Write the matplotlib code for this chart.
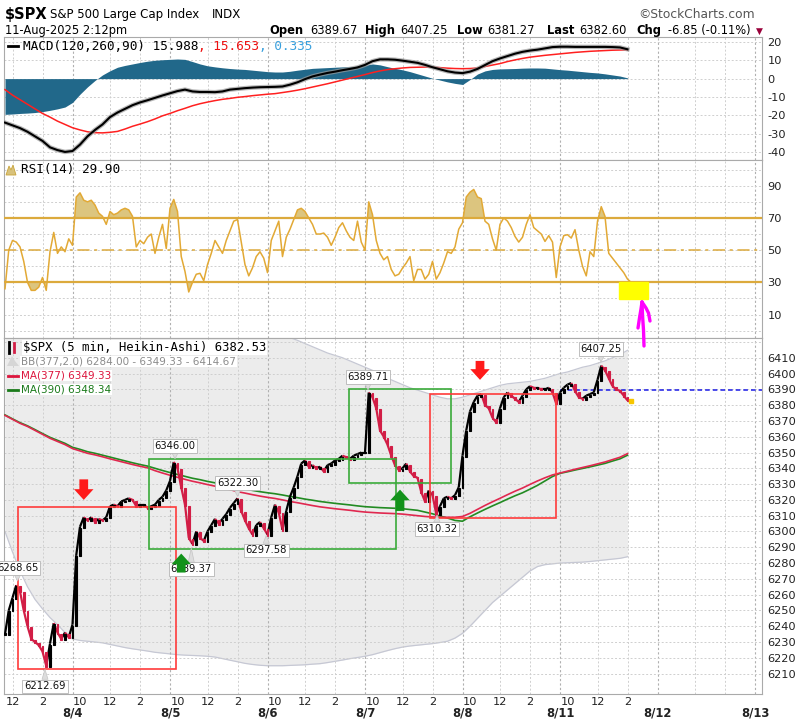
# $SPX 5 min Heikin-Ashi with MACD / RSI panels (StockCharts style)

import numpy as np
import matplotlib.pyplot as plt
import matplotlib.transforms as mtransforms
from matplotlib.patches import Rectangle, Polygon
from matplotlib.lines import Line2D
from matplotlib.collections import LineCollection

plt.rcParams['axes.unicode_minus'] = False

W, H = 809, 721

# trading sessions on the x axis, each one 9:30 - 16:00
days = ['8/1', '8/4', '8/5', '8/6', '8/7', '8/8', '8/11', '8/12', '8/13']


def when(day, hhmm):
    h, m = map(int, hhmm.split(':'))
    return days.index(day) + (h * 60 + m - 570) / 390.0


# Heikin-Ashi closes, one every 15 min starting 8/1 11:30
ha_start = ('8/1', '11:30')
ha_close = [
    6235, 6250, 6258, 6266, 6262, 6250, 6240, 6232, 6230, 6228, 6224, 6215, 6229, 6242, 6236, 6232, 6236, 6233,
    6241, 6285, 6303, 6309, 6307, 6309, 6306, 6308, 6307, 6309, 6316, 6317, 6316, 6319, 6320, 6321, 6320, 6316,
    6317, 6317, 6315, 6316, 6317, 6320, 6322, 6326,
    6332, 6344, 6340, 6328, 6317, 6296, 6292, 6300, 6296, 6294, 6300, 6304, 6308, 6305, 6308, 6311, 6315, 6318,
    6321, 6313, 6307, 6302, 6298, 6304, 6306, 6302,
    6298, 6309, 6317, 6312, 6301, 6313, 6322, 6328, 6335, 6343, 6345, 6341, 6342, 6340, 6341, 6338, 6342, 6343,
    6345, 6346, 6348, 6347, 6346, 6348, 6349, 6350,
    6350, 6388, 6385, 6378, 6364, 6360, 6355, 6348, 6342, 6339, 6340, 6343, 6338, 6335, 6334, 6325, 6319, 6326,
    6323, 6311, 6316, 6321, 6322, 6321, 6323, 6328,
    6348, 6364, 6376, 6382, 6386, 6387, 6380, 6378, 6372, 6369, 6378, 6385, 6388, 6386, 6384, 6382, 6386, 6390,
    6392, 6391, 6391, 6390, 6390, 6391, 6388, 6381,
    6388, 6391, 6393, 6394, 6389, 6385, 6384, 6386, 6387, 6388, 6396, 6405, 6402, 6397, 6392, 6390, 6389, 6386,
    6383, 6382.5,
]
rsi14 = [
    26, 50, 56, 55, 52, 43, 30, 25, 25, 27, 33, 25, 49, 61, 48, 52, 49, 57,
    53, 83, 85.6, 81, 80, 81, 78, 73, 71, 66, 74, 72, 73, 75, 76, 75, 71, 52, 56, 54, 58, 60, 48, 58, 66, 51,
    76, 81.5, 74, 46, 36.7, 24, 30, 35, 35.6, 31, 41, 48, 56, 52, 48, 56, 62, 68, 69, 55, 41, 34, 39, 46, 49, 45,
    36, 56, 62, 68, 46, 58, 63, 69, 75, 76, 74, 70, 66, 60, 60, 60.6, 58, 53, 58, 64, 67, 62, 58, 56, 68, 55,
    50, 80, 72, 56, 48, 44, 46, 38, 34, 35, 38.8, 42, 46, 31, 38, 38, 32, 35, 43, 32, 36, 42, 49, 48, 52, 63,
    67, 83, 86, 87.7, 83, 82, 68, 66, 57, 50, 66, 70, 68, 64, 58.5, 55, 58, 66, 72, 64, 62, 60, 55.4, 59, 55, 33,
    52, 59, 59.6, 57.5, 62.7, 50, 40, 34, 49, 46, 68, 77, 71, 48, 45, 42, 39, 36, 32, 29.9,
]

# smooth studies, one value every 30 min from 8/1 11:30
macd_line = [
    -24, -25.5, -27, -29, -31.5, -34, -37.5, -39, -40, -39.5, -36, -31.5, -28, -25, -21, -18.5, -16.5, -14.5,
    -13, -11.8, -10.5, -9.2, -8, -6.8, -6, -7, -7.3, -7.3, -7.4, -7, -6, -5.6, -5.2, -4.9, -4.7, -4.6, -4.5,
    -4.3, -3.3, -2, -0.3, 1.2, 2.2, 3.1, 3.8, 4.6, 5.3, 6.1, 7.5, 9.5, 10.5, 10.5, 10.3, 9.8, 9.2, 8.6, 7.5,
    6.2, 5.1, 4, 3.3, 3, 3.8, 5.3, 7.4, 9.5, 11, 12.3, 13.6, 14.6, 15.3, 15.8, 16.5, 17.2, 17.4, 17.4, 17.3,
    17.3, 17.3, 17.3, 17.3, 17.2, 17, 16,
]
macd_signal = [
    -6, -9, -11.5, -14, -16.5, -19, -21, -23.2, -25, -26.8, -28, -29, -29.5, -29.6, -29.3, -28.8, -27.5, -26,
    -24.8, -23.5, -22, -20.3, -19, -17.5, -16.2, -14.8, -13.7, -12.8, -12, -11.3, -10.8, -10.2, -9.8, -9.3,
    -8.9, -8.5, -8.2, -7.6, -7, -6.3, -5.5, -4.6, -3.7, -2.8, -1.8, -0.8, 0.2, 1.2, 2.2, 3.3, 4.2, 4.9, 5.4,
    5.8, 6.1, 6.2, 6.3, 6.2, 6, 5.7, 5.5, 5.4, 5.5, 5.8, 6.6, 7.4, 8.2, 9.3, 10.2, 11, 11.7, 12.2, 12.7, 13.1,
    13.5, 13.9, 14.3, 14.6, 14.9, 15.1, 15.3, 15.5, 15.6, 15.65,
]
macd_hist = [
    -19.5, -19.3, -19, -18.8, -18.5, -18, -17.3, -16.5, -15.5, -13, -8.5, -4.5, -1, 2, 4.3, 6.2, 7.2, 8, 8.8,
    9.5, 10, 10.3, 10.5, 10.7, 10.5, 9.3, 8, 7, 6.4, 5.9, 5.5, 5.2, 5, 4.6, 4.2, 3.8, 3.6, 3.6, 4, 4.6, 5.1,
    5.6, 5.8, 6, 6.2, 6.4, 6.5, 6.8, 7.3, 8, 7.5, 6.5, 5.6, 4.8, 3.8, 2.6, 1.4, 0.2, -0.8, -1.8, -2.6, -3.2,
    -0.5, 2.5, 4.2, 5, 5.3, 5.4, 5.5, 5.7, 5.8, 5.8, 5.7, 5.3, 4.9, 4.6, 4.2, 3.8, 3.4, 3.1, 2.6, 2, 1.4, 0.4,
]
ma377 = [
    6373.5, 6371, 6368.5, 6366.5, 6364, 6361.5, 6359, 6357, 6355, 6352.5, 6351, 6349.5, 6348.5, 6347.3, 6346,
    6344.8, 6343.6, 6342.4, 6341.3, 6340.3, 6338.5, 6337, 6335.6, 6334.3, 6333, 6331.8, 6330.8, 6329.7, 6328.7,
    6327.6, 6326.5, 6325.2, 6324.3, 6323.3, 6322.4, 6321.6, 6320.9, 6320, 6319, 6318.2, 6317.3, 6316.4, 6315.6,
    6315, 6314.4, 6313.9, 6313.4, 6312.8, 6312.3, 6312, 6311.7, 6311.5, 6311.3, 6311, 6310.5, 6310, 6309.5,
    6309.2, 6309, 6309, 6309, 6309.5, 6311.5, 6314, 6316.5, 6318.8, 6321, 6323.3, 6325.5, 6327.5, 6329.8, 6332,
    6334, 6335.8, 6337, 6338.2, 6339.4, 6340.5, 6341.6, 6342.8, 6344, 6345.5, 6347, 6349.3,
]
ma390 = [
    6373.8, 6371.3, 6368.9, 6366.9, 6364.5, 6362, 6359.6, 6357.7, 6355.8, 6353.3, 6352, 6350.5, 6349.5, 6348.3,
    6347.1, 6345.9, 6344.7, 6343.5, 6342.4, 6341.4, 6340, 6338.6, 6337.3, 6336.1, 6334.9, 6333.7, 6332.8, 6331.7,
    6330.8, 6329.7, 6328.6, 6327.7, 6326.9, 6326, 6325.2, 6324.5, 6323.9, 6323.1, 6322.2, 6321.4, 6320.5, 6319.8,
    6319, 6318.4, 6317.8, 6317.3, 6316.8, 6316.2, 6315.7, 6315.4, 6315.1, 6314.9, 6314.7, 6314.4, 6313.9, 6313.4,
    6312.3, 6311.2, 6309.8, 6308.5, 6307, 6306.5, 6309.3, 6311.7, 6314, 6316.2, 6318.3, 6320.5, 6322.6, 6324.5,
    6326.8, 6329.2, 6332, 6334.8, 6336.8, 6337.8, 6338.9, 6339.9, 6340.9, 6342, 6343.1, 6344.6, 6346, 6348.3,
]
bb_lower = [
    6300, 6287, 6275, 6265, 6257, 6251, 6245.5, 6241, 6236, 6232, 6231, 6230.5, 6230, 6229.5, 6228.5, 6227.5,
    6226.5, 6225.7, 6225, 6224.3, 6223.5, 6223, 6222.5, 6222, 6221.7, 6221.5, 6221.3, 6221, 6220.5, 6219.5,
    6218.5, 6217.5, 6216.5, 6215.8, 6215.3, 6215, 6215, 6215, 6215.2, 6215.4, 6215.6, 6216, 6216.3, 6217,
    6217.8, 6218.6, 6219.5, 6220.2, 6221, 6222, 6223.3, 6224.6, 6225.8, 6226.8, 6227.5, 6228, 6228.5, 6229,
    6229.7, 6230.5, 6232.5, 6235.5, 6240, 6245, 6250, 6255, 6259, 6263, 6267, 6271, 6275, 6277.8, 6279, 6279.5,
    6280, 6280.2, 6280.4, 6280.6, 6281, 6281.5, 6282, 6282.5, 6283, 6284,
]
bb_upper = [
    6447, 6455, 6462, 6468, 6471, 6472, 6472.5, 6473, 6474, 6473, 6471, 6468.5, 6467, 6465, 6463.5, 6462,
    6460.7, 6459, 6457.6, 6456.3, 6453.5, 6451, 6448.7, 6446.6, 6444.3, 6442, 6440.3, 6438.4, 6437, 6435.7,
    6434.5, 6433, 6432, 6430.8, 6429.5, 6428, 6426.8, 6425, 6422.8, 6421, 6419, 6417, 6415, 6413, 6411.5,
    6410, 6408, 6406, 6404, 6402, 6399.5, 6397, 6395, 6393, 6391, 6389.5, 6388, 6386.5, 6385, 6384, 6384,
    6385, 6386.5, 6388, 6389.5, 6391, 6392.5, 6393.5, 6394, 6394.5, 6395, 6396, 6397, 6398.5, 6400, 6401,
    6402.5, 6404, 6405, 6406.5, 6408, 6410, 6412, 6414.7,
]
prev_close = 6389.45

# chart annotations drawn by the user
peak_labels = [  # text, day, time, label offset (px, + is above)
    ('6268.65', '8/1', '12:20', 13), ('6212.69', '8/1', '14:10', -17),
    ('6346.00', '8/5', '9:50', 13), ('6289.37', '8/5', '10:55', -21),
    ('6322.30', '8/5', '14:00', 13), ('6297.58', '8/5', '15:55', -15),
    ('6389.71', '8/7', '9:42', 13), ('6310.32', '8/7', '14:18', -14),
    ('6407.25', '8/11', '12:14', 13),
]
boxes = [  # from, to, low, high, colour
    (('8/1', '12:20'), ('8/5', '9:55'), 6213, 6315.5, '#ff3b3b'),
    (('8/4', '14:35'), ('8/7', '11:35'), 6289, 6346, '#3aaa3a'),
    (('8/6', '14:55'), ('8/7', '15:15'), 6331, 6390.5, '#3aaa3a'),
    (('8/7', '13:50'), ('8/8', '15:45'), 6308.5, 6387, '#ff3b3b'),
]
arrows = [  # day, time, from price, to price, colour
    ('8/4', '10:15', 6333, 6320, '#ff1a1a'),
    ('8/8', '10:40', 6408, 6396, '#ff1a1a'),
    ('8/5', '10:15', 6274, 6286, '#12921a'),
    ('8/7', '11:50', 6313, 6326.5, '#12921a'),
]
rsi_mark = (('8/11', '13:26'), ('8/11', '15:22'), 19.5, 30.2)

# ------------------------------------------------------------------
t0 = when(*ha_start)
t15 = t0 + np.arange(len(ha_close)) * 15 / 390.0
t30 = t0 + np.arange(len(macd_line)) * 30 / 390.0
x0, x1 = 29 / 97.5, 787 / 97.5

fig = plt.figure(figsize=(W / 100, H / 100), dpi=100)
pix = mtransforms.Affine2D().scale(1.0 / W, -1.0 / H).translate(0, 1) + fig.transFigure


def panel(top, bottom):
    ax = fig.add_axes([4 / W, 1 - bottom / H, 758 / W, (bottom - top) / H])
    ax.set_xlim(x0, x1)
    for s in ax.spines.values():
        s.set_color('#aaaaaa')
    ax.yaxis.tick_right()
    ax.tick_params(axis='y', length=0, pad=4, labelsize=8.2, labelcolor='#222222')
    ax.tick_params(axis='x', length=0, labelbottom=False)
    for i, d in enumerate(days):
        ax.axvline(i, color='#b0b0b0', lw=0.8, ls=(0, (2, 2)), zorder=1)
        for hh in ('12:00', '14:00'):
            ax.axvline(when(d, hh), color='#cfcfcf', lw=0.7, ls=(0, (2, 2)), zorder=1)
    return ax


def hgrid(ax, vals):
    for v in vals:
        ax.axhline(v, color='#cfcfcf', lw=0.7, ls=(0, (2, 2)), zorder=1)


ax_m = panel(37, 160)
ax_r = panel(160, 338)
ax_p = panel(338, 694)

# MACD
ax_m.set_ylim(-44.4, 22.7)
ax_m.set_yticks([20, 10, 0, -10, -20, -30, -40])
hgrid(ax_m, range(-40, 21, 10))
ax_m.fill_between(t30, 0, macd_hist, color='#21688a', lw=0, zorder=2)
ax_m.plot(t30, macd_signal, color='#ff2020', lw=1.1, zorder=3)
ax_m.plot(t30, macd_line, color='#9a9a9a', lw=3.2, zorder=3, alpha=0.7)
ax_m.plot(t30, macd_line, color='black', lw=1.5, zorder=4)

# RSI
rsi = np.array(rsi14)
ax_r.set_ylim(-4.6, 106)
ax_r.set_yticks([90, 70, 50, 30, 10])
hgrid(ax_r, range(0, 101, 10))
ax_r.fill_between(t15, 70, rsi, where=rsi > 70, interpolate=True, color='#dcc57f', lw=0, zorder=2)
ax_r.fill_between(t15, 30, rsi, where=rsi < 30, interpolate=True, color='#dcc57f', lw=0, zorder=2)
for lev in (70, 30):
    ax_r.axhline(lev, color='#dcaa3c', lw=1.6, zorder=3)
ax_r.axhline(50, color='#dcaa3c', lw=1.1, ls=(0, (8, 3, 2, 3)), zorder=3)
ax_r.plot(t15, rsi, color='#e2a935', lw=1.1, zorder=4)
(a, b, lo, hi) = rsi_mark
ax_r.add_patch(Rectangle((when(*a), lo), when(*b) - when(*a), hi - lo, color='#ffff00', zorder=5))

# price
close = np.array(ha_close, dtype=float)
ax_p.set_ylim(6197.1, 6422.5)
ax_p.set_yticks(range(6210, 6411, 10))
hgrid(ax_p, range(6210, 6421, 10))
ax_p.fill_between(t30, bb_lower, bb_upper, color='#ececec', lw=0, zorder=0.5)
ax_p.plot(t30, bb_lower, color='#c6c8d4', lw=0.9, zorder=0.6)
ax_p.plot(t30, bb_upper, color='#c6c8d4', lw=0.9, zorder=0.6)
ax_p.plot(t30, ma390, color='#228b22', lw=1.2, zorder=3)
ax_p.plot(t30, ma377, color='#e0284f', lw=1.2, zorder=3)
ax_p.hlines(prev_close, when('8/11', '9:30'), x1, colors='#1a1ae6', lw=1.1, linestyles=(0, (3, 2)), zorder=3)

# Heikin-Ashi bars: each runs from the previous close to its own close
opens = np.r_[close[0], close[:-1]]
cols = np.where(close >= opens, 'black', '#d21e46')
segs = [[(t15[i - 1], close[i - 1]), (t15[i], close[i])] for i in range(1, len(close))]
ax_p.add_collection(LineCollection(segs, colors=cols[1:], lw=1.6, zorder=4))
ax_p.bar(t15, np.maximum(np.abs(close - opens), 1.2), bottom=np.minimum(opens, close) - 0.6,
         width=0.45 * 15 / 390, color=cols, edgecolor=cols, lw=0.8, zorder=4)
ax_p.plot(t15[-1], close[-1], marker='s', ms=3, color='#f7c600', zorder=5)

for (a, b, lo, hi, c) in boxes:
    ax_p.add_patch(Rectangle((when(*a), lo), when(*b) - when(*a), hi - lo,
                             fill=False, ec=c, lw=1.2, zorder=5))

for txt, d, hh, off in peak_labels:
    ax_p.annotate(txt, xy=(when(d, hh), float(txt)), xytext=(0, off * 0.72), textcoords='offset points',
                  ha='center', va='center', fontsize=7.2, color='#111111', zorder=6,
                  bbox=dict(boxstyle='square,pad=0.18', fc='white', ec='#b5b5b5', lw=0.6),
                  arrowprops=dict(arrowstyle='wedge,tail_width=0.6', fc='#dddddd', ec='#c4c4c4',
                                  lw=0.5, shrinkA=0, shrinkB=0))

for d, hh, p0, p1, c in arrows:
    ax_p.annotate('', xy=(when(d, hh), p1), xytext=(when(d, hh), p0), zorder=7,
                  arrowprops=dict(arrowstyle='simple,head_length=0.55,head_width=1.0,tail_width=0.45',
                                  fc=c, ec='none', shrinkA=0, shrinkB=0, mutation_scale=14))

# x axis labels
ticks, labs = [], []
for d in days[:7]:
    for hh, lab in (('10:00', '10'), ('12:00', '12'), ('14:00', '2')):
        if x0 < when(d, hh) < x1:
            ticks.append(when(d, hh))
            labs.append(lab)
ax_p.set_xticks(ticks, labs)
ax_p.tick_params(axis='x', labelbottom=True, length=0, pad=2, labelsize=8.2, labelcolor='#222222')
blend = mtransforms.blended_transform_factory(ax_p.transData, ax_p.transAxes)
for d in days[1:]:
    ax_p.text(when(d, '9:30'), -0.054, d, transform=blend, ha='center', va='center',
              fontsize=8.4, fontweight='bold', color='#222222')

# header
fig.text(5 / W, 1 - 14 / H, '$SPX', fontsize=10.5, fontweight='bold', va='center')
fig.text(50 / W, 1 - 14.5 / H, 'S&P 500 Large Cap Index', fontsize=8.5, va='center')
fig.text(212 / W, 1 - 14.5 / H, 'INDX', fontsize=8.5, va='center')
fig.text(755 / W, 1 - 14.5 / H, '©StockCharts.com', fontsize=8.8, color='#555555', ha='right', va='center')
fig.text(5 / W, 1 - 30.5 / H, '11-Aug-2025 2:12pm', fontsize=8.3, va='center')
for s, x, bold in [('Open', 269, True), ('6389.67', 310, False), ('High', 365, True), ('6407.25', 400, False),
                   ('Low', 457, True), ('6381.27', 487, False), ('Last', 547, True), ('6382.60', 579, False),
                   ('Chg', 636, True), ('-6.85 (-0.11%)', 668, False)]:
    fig.text(x / W, 1 - 30.5 / H, s, fontsize=8.3, fontweight='bold' if bold else 'normal', va='center')
fig.text(756 / W, 1 - 31 / H, '▼', fontsize=6.5, color='#99003a', va='center')

renderer = fig.canvas.get_renderer()


def row(x, y, pieces, size, family, bg=False):
    for s, c in pieces:
        t = fig.text(x / W, 1 - y / H, s, color=c, fontsize=size, family=family, va='center',
                     bbox=dict(fc='white', ec='none', pad=0.6) if bg else None)
        x += t.get_window_extent(renderer).width


row(23, 46, [('MACD(120,260,90) 15.988', 'black'), (', 15.653', '#ee1111'), (', 0.335', '#3aa0dd')],
    9.2, 'DejaVu Sans Mono')
row(21, 170, [('RSI(14) 29.90', 'black')], 9.2, 'DejaVu Sans Mono')
row(23, 347.5, [('$SPX (5 min, Heikin-Ashi) 6382.53', 'black')], 8.8, 'DejaVu Sans Mono', bg=True)
row(21, 361.5, [('BB(377,2.0) 6284.00 - 6349.33 - 6414.67', '#8c8c8c')], 7.5, 'DejaVu Sans', bg=True)
row(21, 375.5, [('MA(377) 6349.33', '#dc143c')], 7.5, 'DejaVu Sans', bg=True)
row(21, 389.5, [('MA(390) 6348.34', '#1a7a1a')], 7.5, 'DejaVu Sans', bg=True)

# legend icons
fig.add_artist(Line2D([8, 18], [46, 46], color='black', lw=2, transform=pix))
fig.add_artist(Polygon([(6, 175), (9, 166), (11, 170), (13, 165), (16, 175)], closed=True,
                       fc='#d8c27c', ec='#c9a43a', lw=0.6, transform=pix))
fig.add_artist(Line2D([9, 9], [342, 353], color='black', lw=2, transform=pix))
fig.add_artist(Line2D([14, 14], [343, 352], color='#d21e46', lw=2, transform=pix))
fig.add_artist(Polygon([(7, 366), (12, 356), (15, 361), (19, 366)], closed=True,
                       fc='#d6d6d6', ec='none', transform=pix))
fig.add_artist(Line2D([8, 18], [375.5, 375.5], color='#dc143c', lw=2, transform=pix))
fig.add_artist(Line2D([8, 18], [389.5, 389.5], color='#1a7a1a', lw=2, transform=pix))

# hand drawn magenta arrow
for xs, ys in [([644, 643.5, 642.5, 642], [346, 330, 315, 302]),
               ([638, 639.5, 641, 642], [328, 318, 309, 302]),
               ([642, 646, 648.5, 650], [302, 308, 313, 321])]:
    fig.add_artist(Line2D(xs, ys, color='#ff00ff', lw=2.4, transform=pix, solid_capstyle='round'))

fig.savefig('out.png', dpi=100)
